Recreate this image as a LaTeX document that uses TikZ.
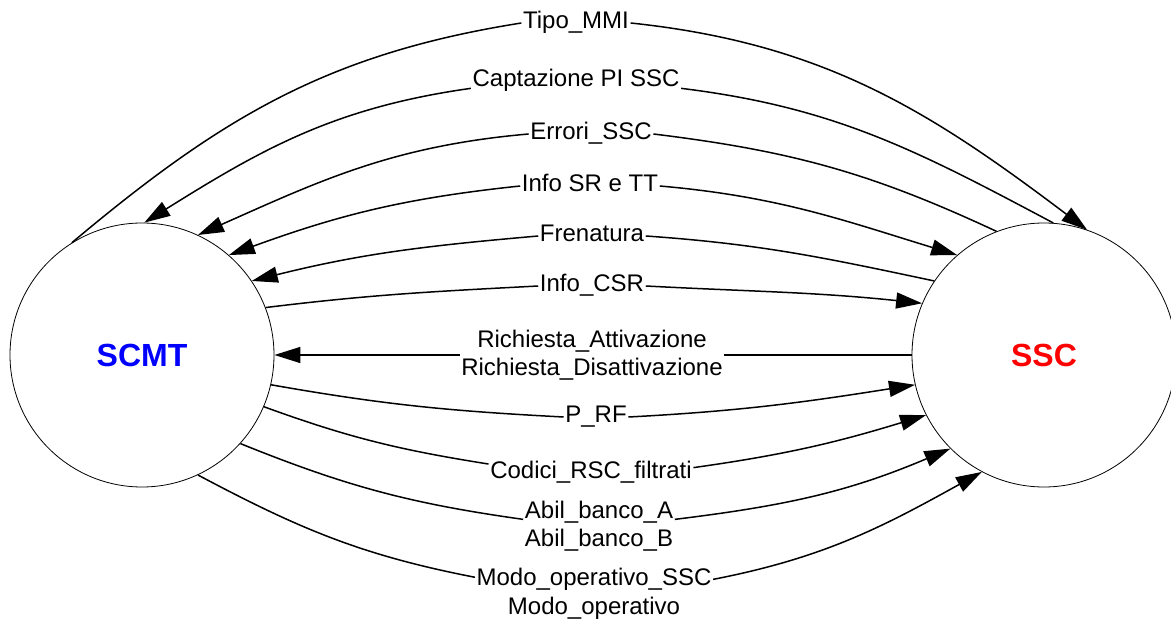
\documentclass[tikz,border=0pt]{standalone}
\usepackage{fontspec}
\setmainfont{Liberation Sans}
\usetikzlibrary{arrows.meta}
\newcommand{\sysNode}{\node[circle,draw,line width=0.8pt,minimum size=264pt,inner sep=0pt,font=\fontsize{32}{38}\selectfont\bfseries]}
\newcommand{\msgNode}{\node[font=\fontsize{24}{28.5}\selectfont,inner xsep=1pt,inner ysep=0pt,text height=17pt,text depth=5pt,anchor=base]}
\newcommand{\msgBlock}{\node[font=\fontsize{24}{28.5}\selectfont,inner xsep=1pt,inner ysep=0pt,align=center]}

\begin{document}
\begin{tikzpicture}[x=1pt,y=1pt,line width=1.5pt,>={Triangle[length=26pt,width=16pt]}]

    \useasboundingbox (0,0) rectangle (1171,619);

    \sysNode (scmt) [text=blue] at (142,264) {SCMT};
    \sysNode (ssc) [text=red] at (1044,264) {SSC};

    \msgNode (tipo) at (576,590) {Tipo\_MMI};
    \msgNode (capt) at (576,532) {Captazione PI SSC};
    \msgNode (errori) at (591,479) {Errori\_SSC};
    \msgNode (infosr) at (590,427) {Info SR e TT};
    \msgNode (fren) at (592,377) {Frenatura};
    \msgNode (infocsr) at (592,327) {Info\_CSR};
    \msgBlock (rich) at (592,264) {Richiesta\_Attivazione\\Richiesta\_Disattivazione};
    \msgNode (prf) at (596,196) {P\_RF};
    \msgNode (codici) at (591,140) {Codici\_RSC\_filtrati};
    \msgBlock (abil) at (599,93) {Abil\_banco\_A\\Abil\_banco\_B};
    \msgBlock (modo) at (594,25) {Modo\_operativo\_SSC\\Modo\_operativo};

    % upper flows
    \draw[->] (scmt.122) to[out=40,in=189] (tipo.west) (tipo.east) to[out=-6,in=143] (ssc.71);
    \draw[->] (ssc.86) to[out=152,in=-7] (capt.-4) (capt.184) to[out=188,in=32] (scmt.89);
    \draw[->] (ssc.111) to[out=155,in=-7] (errori.east) (errori.west) to[out=185,in=24] (scmt.65);
    \draw[<-] (scmt.49) to[out=20,in=186] (infosr.west);
    \draw[->] (infosr.east) to[out=-5,in=163] (ssc.131);
    \draw[->] (ssc.146) to[out=168,in=-4] (fren.east) (fren.west) to[out=185,in=14] (scmt.34);
    \draw[->] (scmt.21) to[out=7,in=183] (infocsr.west) (infocsr.east) to[out=-3,in=174] (ssc.157);

    \draw[->] (ssc.west) -- (rich.east) (rich.west) -- (scmt.east);

    % lower flows
    \draw[->] (scmt.-13) to[out=-10,in=177] (prf.west) (prf.east) to[out=3,in=189] (ssc.193);
    \draw[->] (scmt.-23) to[out=-20,in=171] (codici.175) (codici.3) to[out=8,in=197] (ssc.207);
    \draw[->] (scmt.-42) to[out=-22,in=172] (abil.175) (abil.5) to[out=7,in=203] (ssc.225);
    \draw[->] (scmt.-65) to[out=-28,in=169] (modo.172) (modo.7) to[out=11,in=209] (ssc.242);

\end{tikzpicture}
\end{document}
